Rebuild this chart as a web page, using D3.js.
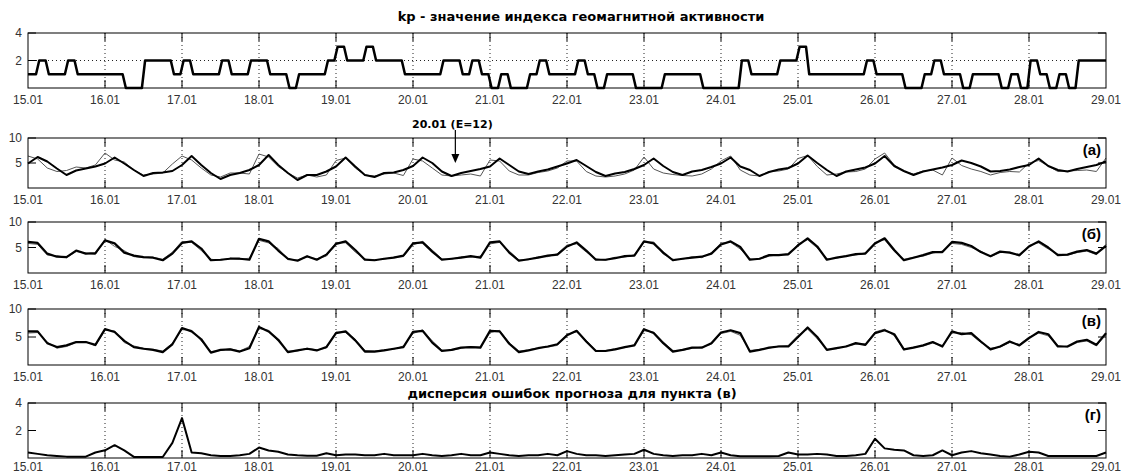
<!DOCTYPE html>
<html lang="ru">
<head>
<meta charset="utf-8">
<script src="https://d3js.org/d3.v7.min.js"></script>
<title>kp</title>
<style>
    body { margin: 0; background: #fff; }
    text { font-family: "Liberation Sans", Arial, sans-serif; }
</style>
</head>
<body>
<div id="container"></div>
<script>
    // day labels (15.01 .. 29.01)
    var dayLabels = ["15.01","16.01","17.01","18.01","19.01","20.01","21.01","22.01",
                     "23.01","24.01","25.01","26.01","27.01","28.01","29.01"];

    // kp index, 3-hour values
    var kp = [1,2,1,1,2,1,1,1, 1,1,0,0,2,2,2,1, 2,1,1,1,2,1,1,2, 2,1,1,0,1,1,1,2,
              3,2,2,3,2,2,2,1, 1,1,1,2,2,1,2,1, 0,1,0,0,1,2,1,1, 1,2,1,0,1,1,1,0,
              0,0,1,1,1,1,0,0, 0,0,2,1,1,1,2,2, 3,1,1,1,1,1,1,2, 1,1,1,0,0,1,2,1,
              1,0,1,1,1,0,1,0, 2,1,0,1,0,2,2,2];

    // panel (a): thick and thin series, every 3 hours
    var aThick = [4.9,6.2,5.3,3.9,2.6,3.5,3.9,4.3, 4.9,6.1,4.9,3.6,2.4,3.0,3.1,3.4,
                  4.6,6.4,4.6,3.0,1.8,2.6,3.0,3.6, 4.6,6.6,4.6,3.0,1.6,2.6,2.6,3.3,
                  4.3,6.1,4.3,2.6,2.2,3.0,3.1,3.6, 4.4,6.1,5.0,3.3,2.4,3.0,3.4,3.8,
                  4.3,5.9,4.6,3.3,2.8,3.3,3.7,4.3, 4.9,5.6,4.4,3.2,2.4,2.9,3.2,3.8,
                  4.6,5.9,4.4,3.2,2.6,3.3,3.6,4.2, 4.9,6.1,4.3,3.6,2.4,3.2,3.7,4.0,
                  4.9,6.5,5.0,3.6,2.4,3.3,3.7,4.1, 4.9,6.4,4.4,3.4,2.6,3.3,3.7,4.1,
                  4.6,5.5,5.0,4.3,3.3,3.4,3.7,4.2, 4.6,5.9,4.4,3.6,3.3,3.8,4.2,4.6, 5.3];
    var aThin = [6.4,5.8,4.0,3.3,3.5,4.2,4.0,4.6, 7.0,5.6,5.2,3.6,2.6,2.8,3.0,4.8,
                 6.4,5.6,4.0,2.6,2.2,3.0,3.0,2.8, 6.8,6.2,4.3,3.0,2.0,2.6,2.2,2.6,
                 5.5,6.0,4.0,2.6,2.4,2.8,3.0,2.5, 5.8,5.4,4.0,2.6,2.4,2.6,2.8,2.4,
                 5.6,5.4,3.4,2.6,2.6,3.1,3.4,4.0, 5.4,5.4,3.3,2.4,2.2,2.4,2.8,3.6,
                 6.2,3.8,3.0,2.7,2.5,2.4,2.8,3.8, 5.4,6.4,3.6,2.6,2.4,3.3,3.4,3.8,
                 5.9,6.5,4.3,2.6,2.8,3.2,3.3,3.8, 5.8,7.0,4.6,3.3,2.8,3.4,3.6,2.6,
                 6.0,4.5,3.8,3.3,2.6,3.1,3.3,3.2, 5.0,5.5,4.4,3.3,3.4,3.5,3.6,3.3, 6.0];

    // panel (б)
    var bThick = [6.1,5.9,3.8,3.2,3.1,4.4,3.8,3.9, 6.4,5.8,4.0,3.4,3.1,3.0,2.5,3.8,
                  5.9,6.2,4.8,2.5,2.6,2.8,2.8,2.6, 6.7,6.2,4.4,2.8,2.4,3.3,2.6,3.6,
                  5.7,6.2,4.5,2.6,2.5,2.8,3.0,3.4, 5.8,6.0,4.2,2.6,2.8,3.0,3.3,3.0,
                  6.0,6.2,4.0,2.4,2.7,3.0,3.4,3.6, 5.2,6.0,4.4,2.6,2.6,2.9,3.3,3.4,
                  6.2,5.8,4.0,2.5,2.8,3.0,3.2,3.8, 5.6,6.2,5.1,2.6,2.8,3.5,3.5,3.7,
                  5.4,6.8,5.2,2.6,3.0,3.3,3.7,3.8, 5.8,6.8,4.5,2.5,3.0,3.5,4.1,4.1,
                  6.1,5.9,5.3,4.1,3.3,4.2,4.0,3.5, 5.2,6.2,5.0,3.5,3.6,4.2,4.5,3.8, 5.3];
    var bThin = [5.8,5.6,3.5,3.4,3.0,4.2,3.9,3.6, 6.6,5.2,4.4,3.2,3.0,3.1,2.7,4.1,
                 6.2,6.0,4.4,2.7,2.5,2.9,2.7,2.9, 6.4,5.9,4.8,2.6,2.6,3.1,2.8,3.3,
                 6.0,5.9,4.1,2.8,2.6,2.7,3.1,3.2, 5.5,6.2,4.5,2.8,2.7,3.2,3.1,3.3,
                 5.7,6.0,4.3,2.6,2.6,3.2,3.2,3.8, 5.5,5.7,4.1,2.8,2.5,3.1,3.1,3.6,
                 6.0,6.1,3.7,2.7,2.7,3.2,3.0,4.0, 5.9,6.0,4.7,2.8,2.7,3.3,3.6,3.5,
                 5.7,6.5,4.9,2.8,2.9,3.4,3.5,4.0, 6.0,6.5,4.2,2.7,3.1,3.3,3.9,4.3,
                 5.8,5.6,5.0,4.3,3.2,4.0,4.1,3.3, 5.4,5.9,4.7,3.7,3.5,4.0,4.3,3.6, 5.6];

    // panel (в)
    var vThick = [6.0,6.0,3.9,3.2,3.5,4.1,4.1,3.6, 6.4,5.9,4.3,3.2,2.9,2.7,2.3,3.7,
                  6.6,6.0,4.6,2.2,2.7,2.8,2.4,3.0, 6.8,6.0,4.5,2.3,2.6,2.9,2.6,3.2,
                  5.7,6.0,4.4,2.4,2.4,2.6,2.9,3.2, 5.9,6.1,4.0,2.5,2.7,3.1,3.2,3.1,
                  6.1,6.0,3.8,2.3,2.6,3.0,3.3,3.7, 5.3,6.1,4.2,2.5,2.5,2.8,3.2,3.5,
                  6.4,5.7,3.9,2.4,2.7,3.1,3.1,3.9, 5.8,6.2,5.7,2.4,2.7,3.1,3.3,3.3,
                  5.0,6.7,5.0,2.7,3.0,3.3,3.9,3.6, 5.7,6.2,5.5,2.8,3.1,3.5,4.1,3.3,
                  6.0,5.5,5.7,4.2,2.8,3.3,4.2,3.5, 4.8,5.9,5.5,3.3,3.3,4.2,4.5,3.6, 5.7];
    var vThin = [5.7,5.8,4.1,3.0,3.3,4.0,4.2,3.4, 6.2,6.1,4.0,3.4,3.0,2.8,2.5,3.9,
                 6.3,6.2,4.3,2.4,2.6,2.9,2.5,3.3, 6.5,6.2,4.2,2.5,2.5,3.0,2.7,3.0,
                 5.9,5.8,4.6,2.6,2.5,2.7,2.8,3.4, 5.6,6.3,4.3,2.7,2.6,3.0,3.3,3.2,
                 5.8,6.2,4.0,2.5,2.7,3.1,3.2,3.5, 5.5,5.9,4.4,2.6,2.6,2.9,3.1,3.6,
                 6.1,5.9,4.1,2.6,2.6,3.0,3.2,3.7, 5.6,6.0,5.3,2.6,2.8,3.0,3.4,3.5,
                 5.3,6.4,4.7,2.8,2.9,3.4,3.7,3.8, 5.9,6.4,5.2,2.7,3.2,3.4,3.9,3.5,
                 5.7,5.8,5.4,4.0,3.0,3.2,4.0,3.7, 5.0,5.7,5.2,3.5,3.2,4.0,4.3,3.4, 5.4];

    // panel (г): error dispersion
    var disp = [0.4,0.3,0.2,0.15,0.1,0.1,0.1,0.4, 0.56,0.93,0.55,0.08,0.07,0.07,0.07,1.1,
                2.9,0.4,0.35,0.2,0.15,0.15,0.2,0.3, 0.76,0.55,0.45,0.25,0.2,0.17,0.17,0.35,
                0.2,0.25,0.25,0.2,0.2,0.3,0.2,0.2, 0.2,0.3,0.2,0.15,0.2,0.3,0.2,0.2,
                0.4,0.3,0.2,0.15,0.2,0.2,0.3,0.2, 0.5,0.3,0.2,0.2,0.15,0.2,0.25,0.3,
                0.6,0.3,0.2,0.15,0.2,0.2,0.3,0.2, 0.4,0.2,0.12,0.12,0.12,0.12,0.15,0.4,
                0.25,0.25,0.3,0.25,0.15,0.15,0.2,0.3, 1.4,0.7,0.6,0.55,0.2,0.15,0.2,0.55,
                0.2,0.4,0.5,0.35,0.25,0.15,0.1,0.25, 0.45,0.4,0.15,0.15,0.15,0.15,0.15,0.15, 0.4];

    var annotDay = 5.55, annotValue = 5;   // 20.01 (E=12)

    var W = 1126, H = 474;
    var left = 28, right = 1106;

    var svg = d3.select("#container").append("svg")
        .attr("width", W).attr("height", H);

    var x = d3.scaleLinear().domain([0, 14]).range([left, right]);

    function panel(top, bottom, yMax, yTicks, opts) {
        var y = d3.scaleLinear().domain([0, yMax]).range([bottom, top]);
        var g = svg.append("g");
        // vertical dotted grid
        g.selectAll(".vg").data(d3.range(1, 14)).enter().append("line")
            .attr("x1", function(d){ return x(d); }).attr("x2", function(d){ return x(d); })
            .attr("y1", top).attr("y2", bottom)
            .attr("stroke", "#222").attr("stroke-width", 1)
            .attr("stroke-dasharray", "1,3");
        if (opts.gridY) {
            g.selectAll(".hg").data(opts.gridY).enter().append("line")
                .attr("x1", left).attr("x2", right)
                .attr("y1", function(d){ return y(d); }).attr("y2", function(d){ return y(d); })
                .attr("stroke", "#222").attr("stroke-dasharray", "1,3");
        }
        // inward ticks
        var tl = 8;
        d3.range(1, 14).forEach(function(d) {
            g.append("line").attr("x1", x(d)).attr("x2", x(d)).attr("y1", top).attr("y2", top + tl)
                .attr("stroke", "#000");
            g.append("line").attr("x1", x(d)).attr("x2", x(d)).attr("y1", bottom).attr("y2", bottom - tl)
                .attr("stroke", "#000");
        });
        yTicks.forEach(function(v) {
            g.append("line").attr("x1", left).attr("x2", left + tl).attr("y1", y(v)).attr("y2", y(v))
                .attr("stroke", "#000");
            g.append("line").attr("x1", right).attr("x2", right - tl).attr("y1", y(v)).attr("y2", y(v))
                .attr("stroke", "#000");
            g.append("text").attr("x", left - 6).attr("y", y(v) + 4)
                .attr("text-anchor", "end").attr("font-size", 12).attr("fill", "#333")
                .text(v);
        });
        // x labels
        g.selectAll(".xl").data(dayLabels).enter().append("text")
            .attr("x", function(d, i){ return x(i); })
            .attr("y", bottom + (opts.labelGap || 16))
            .attr("text-anchor", "middle").attr("font-size", 12).attr("fill", "#333")
            .text(function(d){ return d; });
        // series
        opts.series.forEach(function(s) {
            var line = d3.line()
                .x(function(d){ return x(d[0]); })
                .y(function(d){ return y(d[1]); });
            g.append("path").datum(s.pts)
                .attr("d", line).attr("fill", "none")
                .attr("stroke", s.color).attr("stroke-width", s.w)
                .attr("stroke-linejoin", "round");
        });
        // frame
        g.append("rect").attr("x", left).attr("y", top)
            .attr("width", right - left).attr("height", bottom - top)
            .attr("fill", "none").attr("stroke", "#000").attr("stroke-width", 1);
        if (opts.tag) {
            g.append("text").attr("x", right - 5).attr("y", top + 17)
                .attr("text-anchor", "end").attr("font-size", 15).attr("font-weight", "bold")
                .text(opts.tag);
        }
        return y;
    }

    function pts3h(arr) {
        return arr.map(function(v, i){ return [i / 8, v]; });
    }
    function kpPts(arr) {
        var p = [];
        arr.forEach(function(v, k) {
            var t0 = k / 8 + (k === 0 ? 0 : 1 / 48);
            var t1 = (k + 1) / 8 - (k === arr.length - 1 ? 0 : 1 / 48);
            p.push([t0, v], [t1, v]);
        });
        return p;
    }

    svg.append("text").attr("x", 581).attr("y", 21)
        .attr("text-anchor", "middle").attr("font-size", 13).attr("font-weight", "bold")
        .style("font-family", "DejaVu Sans")
        .text("kp - значение индекса геомагнитной активности");

    panel(33, 88, 4, [2, 4], {gridY: [2],
        series: [{pts: kpPts(kp), color: "#000", w: 2.5}]});

    var ya = panel(138, 188, 10, [5, 10], {tag: "(a)",
        series: [{pts: pts3h(aThin), color: "#555", w: 1},
                 {pts: pts3h(aThick), color: "#000", w: 2}]});

    panel(222, 273, 10, [5, 10], {tag: "(б)",
        series: [{pts: pts3h(bThin), color: "#666", w: 1},
                 {pts: pts3h(bThick), color: "#000", w: 2.2}]});

    panel(309, 365, 10, [5, 10], {tag: "(в)",
        series: [{pts: pts3h(vThin), color: "#666", w: 1},
                 {pts: pts3h(vThick), color: "#000", w: 2.2}]});

    svg.append("text").attr("x", 572).attr("y", 398)
        .attr("text-anchor", "middle").attr("font-size", 13).attr("font-weight", "bold")
        .style("font-family", "DejaVu Sans")
        .text("дисперсия ошибок прогноза для пункта (в)");

    panel(403, 458, 4, [2, 4], {tag: "(г)", labelGap: 13,
        series: [{pts: pts3h(disp), color: "#000", w: 2}]});

    // annotation arrow
    var ax = x(annotDay);
    svg.append("text").attr("x", ax - 3).attr("y", 128)
        .attr("text-anchor", "middle").attr("font-size", 11).attr("font-weight", "bold")
        .style("font-family", "DejaVu Sans")
        .text("20.01 (E=12)");
    svg.append("line").attr("x1", ax).attr("x2", ax)
        .attr("y1", 130).attr("y2", ya(annotValue) - 6)
        .attr("stroke", "#000").attr("stroke-width", 1.2);
    svg.append("path")
        .attr("d", "M" + (ax - 4) + "," + (ya(annotValue) - 9) + "L" + (ax + 4) + "," + (ya(annotValue) - 9) +
                   "L" + ax + "," + ya(annotValue) + "Z")
        .attr("fill", "#000");
</script>
</body>
</html>
